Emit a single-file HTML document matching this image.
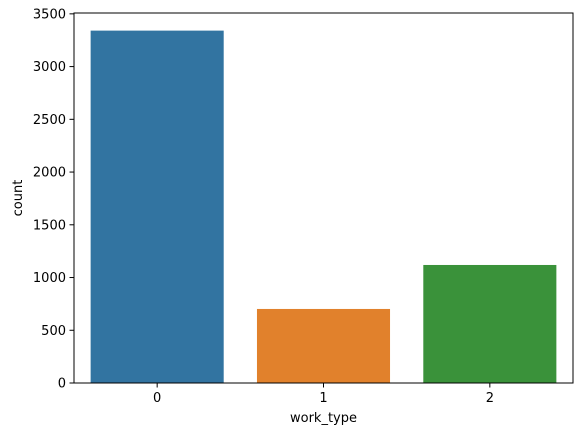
<!DOCTYPE html>
<html><head><meta charset="utf-8"><style>
body{margin:0;background:#fff;}
svg text{font-family:"DejaVu Sans","Liberation Sans",sans-serif;font-size:13px;fill:#000;}
</style></head><body>
<svg id="chart" width="580" height="436" viewBox="0 0 580 436" xmlns="http://www.w3.org/2000/svg">
<g id="plot"></g>
</svg>
<script>
const categories = ["0","1","2"];
const counts = [3341, 702, 1119];
const colors = ["#3274a1","#e1812c","#3a923a"];
const yTicks = [0,500,1000,1500,2000,2500,3000,3500];

const L=74, R=573, T=13, B=383;
const yMax = Math.max(...counts)*1.05;
const ys = v => B - v/yMax*(B-T);
const band = (R-L)/categories.length;
const xc = i => L + band*(i+0.5);
const NS="http://www.w3.org/2000/svg";
const g=document.getElementById('plot');
function mk(tag,attrs){const e=document.createElementNS(NS,tag);for(const k in attrs)e.setAttribute(k,attrs[k]);g.appendChild(e);return e;}

counts.forEach((v,i)=>{
  const w=band*0.8;
  const r=mk('rect',{x:xc(i)-w/2,y:ys(v),width:w,height:B-ys(v),fill:colors[i]});
  
  
  const t=mk('line',{x1:xc(i),x2:xc(i),y1:B,y2:B+4.5,stroke:'#000','stroke-width':1});
  
  
  const lb=mk('text',{x:xc(i),y:B+19,'text-anchor':'middle'});
  lb.textContent=categories[i];
  
  
});
yTicks.forEach(v=>{
  const y=ys(v);
  const t=mk('line',{x1:L-4.5,x2:L,y1:y,y2:y,stroke:'#000','stroke-width':1});
  
  
  const lb=mk('text',{x:L-8,y:y+4.5,'text-anchor':'end'});
  lb.textContent=v;
  
  
});
const frame=mk('rect',{x:L,y:T,width:R-L,height:B-T,fill:'none',stroke:'#000','stroke-width':1});


const xt=mk('text',{x:(L+R)/2,y:422,'text-anchor':'middle'});
xt.textContent='work_type';


const yt=mk('text',{x:0,y:0,'text-anchor':'middle',transform:'translate(22,'+((T+B)/2)+') rotate(-90)'});
yt.textContent='count';


</script>
</body></html>
